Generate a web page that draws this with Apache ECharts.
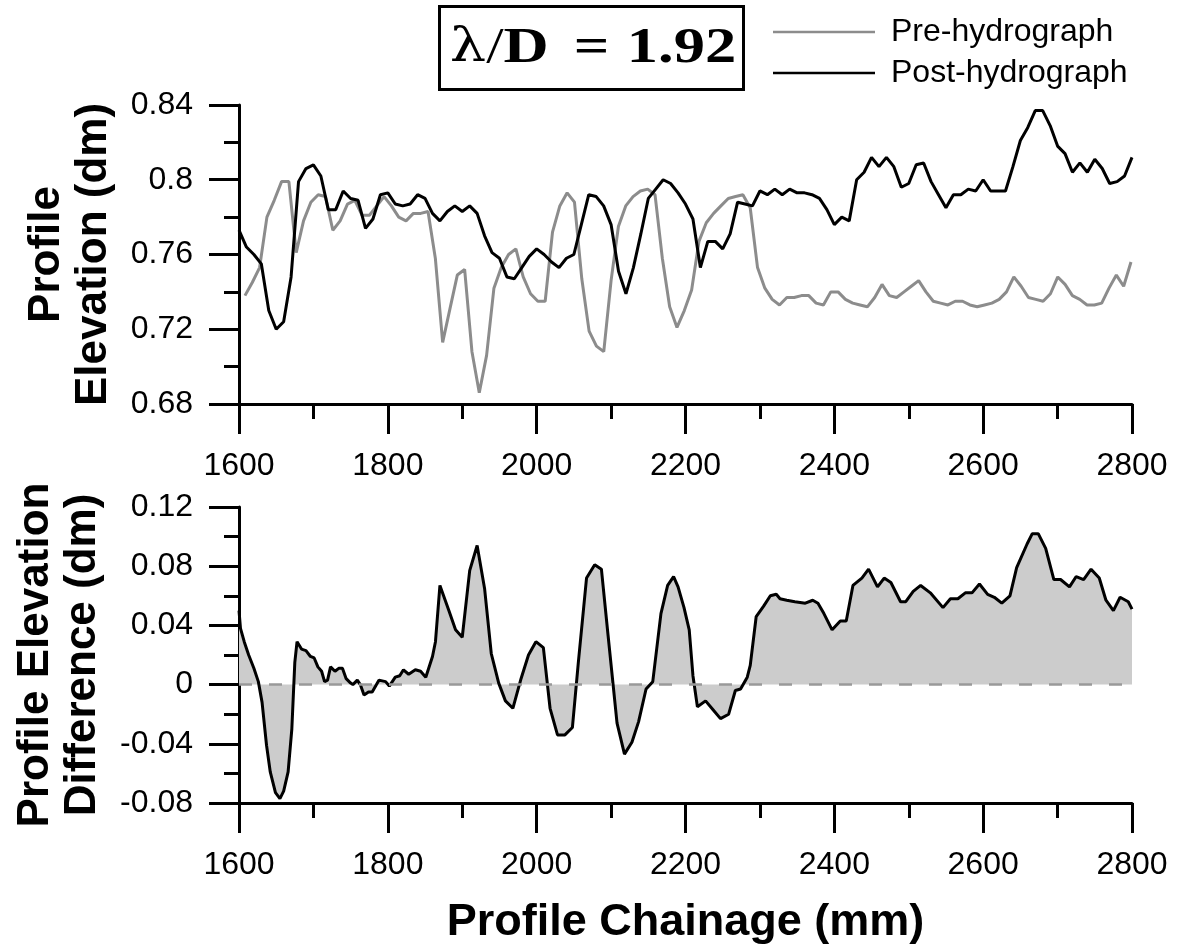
<!DOCTYPE html>
<html><head><meta charset="utf-8">
<script src="https://cdn.jsdelivr.net/npm/echarts@6.0.0/dist/echarts.min.js"></script>
<style>html,body{margin:0;padding:0;background:#fff}#c{width:1178px;height:952px}</style>
</head><body><div id="c"></div>
<script>
// ---- data ----
const xTicks = [1600, 1800, 2000, 2200, 2400, 2600, 2800];
const elevTicks = [0.68, 0.72, 0.76, 0.80, 0.84];
const diffTicks = [-0.08, -0.04, 0, 0.04, 0.08, 0.12];

const postChainage = [1600,1610,1620,1630,1640,1650,1660,1670,1680,1690,
 1700,1710,1720,1730,1740,1750,1760,1770,1780,1790,
 1800,1810,1820,1830,1840,1850,1860,1870,1880,1890,
 1900,1910,1920,1930,1940,1950,1960,1970,1980,1990,
 2000,2010,2020,2030,2040,2050,2060,2070,2080,2090,
 2100,2110,2120,2130,2140,2150,2160,2170,2180,2190,
 2200,2210,2220,2230,2240,2250,2260,2270,2280,2290,
 2300,2310,2320,2330,2340,2350,2360,2370,2380,2390,
 2400,2410,2420,2430,2440,2450,2460,2470,2480,2490,
 2500,2510,2520,2530,2540,2550,2560,2570,2580,2590,
 2600,2610,2620,2630,2640,2650,2660,2670,2680,2690,
 2700,2710,2720,2730,2740,2750,2760,2770,2780,2790,2800];
const postValues = [0.773,0.764,0.760,0.755,0.730,0.720,0.724,0.748,0.799,0.806,
 0.808,0.802,0.784,0.784,0.794,0.790,0.789,0.774,0.779,0.792,
 0.793,0.787,0.786,0.787,0.792,0.790,0.782,0.778,0.783,0.786,
 0.783,0.786,0.782,0.770,0.761,0.758,0.748,0.747,0.753,0.759,
 0.763,0.760,0.756,0.753,0.758,0.760,0.776,0.792,0.791,0.786,
 0.776,0.751,0.739,0.753,0.771,0.790,0.795,0.800,0.798,0.793,
 0.787,0.779,0.753,0.767,0.767,0.763,0.771,0.788,0.787,0.786,
 0.794,0.792,0.795,0.792,0.795,0.793,0.793,0.792,0.790,0.784,
 0.776,0.780,0.778,0.800,0.804,0.812,0.807,0.812,0.807,0.796,
 0.798,0.808,0.809,0.799,0.792,0.785,0.792,0.792,0.795,0.794,
 0.800,0.794,0.794,0.794,0.807,0.821,0.828,0.837,0.837,0.829,
 0.818,0.814,0.804,0.809,0.804,0.811,0.806,0.798,0.799,0.802,0.812];

// pre-hydrograph scan: first chainage and sample spacing (mm)
const preStart = 1608;
const preStep = 9.84;
const preValues = [0.738,0.745,0.753,0.780,0.789,0.799,0.799,0.761,0.778,0.788,
 0.792,0.791,0.773,0.778,0.787,0.789,0.781,0.781,0.786,0.791,
 0.786,0.780,0.778,0.782,0.782,0.783,0.758,0.713,0.731,
 0.749,0.752,0.708,0.686,0.706,0.742,0.753,0.760,0.763,0.748,
 0.739,0.735,0.735,0.772,0.786,0.793,0.788,0.747,0.719,0.711,
 0.708,0.746,0.775,0.786,0.791,0.794,0.795,0.792,0.758,0.732,0.721,
 0.730,0.741,0.767,0.777,0.782,0.786,0.790,0.791,0.792,0.785,
 0.753,0.742,0.736,0.733,0.737,0.737,0.738,0.738,0.734,0.733,
 0.740,0.740,0.736,0.734,0.733,0.732,0.737,0.744,0.738,0.737,
 0.740,0.743,0.746,0.740,0.735,0.734,0.733,0.735,0.735,0.733,
 0.732,0.733,0.734,0.736,0.740,0.748,0.743,0.737,0.736,0.735,
 0.739,0.748,0.744,0.738,0.736,0.733,0.733,0.734,0.742,0.749,0.743,0.756];

const diffChainage = [1600,1602,1607,1613,1620,1626,1631,1637,1642,1649,1655,1660,1666,1671,1675,1678,1684,1690,1696,1701,
 1706,1711,1715,1719,1723,1729,1734,1739,1744,1750,1753,1759,1763,1768,1774,1779,1788,1797,1802,1810,
 1816,1821,1828,1837,1844,1851,1860,1864,1870,1882,1891,1900,1910,1920,1930,1939,1949,1958,1968,1979,
 1989,1999,2009,2018,2028,2038,2048,2056,2067,2078,2087,2096,2108,2118,2128,2137,2147,2156,2167,2176,
 2184,2190,2198,2205,2210,2216,2227,2237,2247,2258,2267,2274,2283,2287,2295,2305,2314,2322,2327,2336,
 2347,2361,2371,2378,2386,2397,2408,2416,2425,2437,2446,2458,2467,2476,2489,2496,2506,2516,2529,2546,
 2556,2566,2576,2585,2595,2606,2615,2625,2636,2645,2659,2666,2674,2684,2695,2704,2716,2725,2735,2745,
 2756,2765,2775,2784,2795,2800];
const diffValues = [0.050,0.038,0.029,0.020,0.011,0.002,-0.012,-0.041,-0.059,-0.073,-0.077,-0.072,-0.059,-0.030,0.015,0.029,0.024,0.023,0.019,0.018,
 0.012,0.009,0.002,0.003,0.012,0.009,0.011,0.011,0.004,0.001,0.000,0.003,0.000,-0.007,-0.005,-0.005,0.003,0.002,-0.001,0.005,
 0.006,0.010,0.007,0.010,0.009,0.005,0.019,0.029,0.067,0.050,0.037,0.032,0.077,0.094,0.065,0.021,0.001,-0.011,-0.016,0.004,
 0.020,0.029,0.025,-0.016,-0.034,-0.034,-0.029,0.015,0.072,0.081,0.078,0.033,-0.026,-0.047,-0.039,-0.025,-0.003,0.002,0.048,0.067,
 0.073,0.066,0.052,0.037,0.006,-0.015,-0.011,-0.017,-0.023,-0.020,-0.004,-0.003,0.005,0.013,0.046,0.053,0.060,0.061,0.058,0.057,
 0.056,0.055,0.057,0.055,0.048,0.037,0.043,0.043,0.067,0.072,0.078,0.066,0.072,0.069,0.056,0.056,0.063,0.067,0.062,0.052,
 0.058,0.058,0.062,0.062,0.068,0.061,0.059,0.055,0.060,0.079,0.095,0.102,0.102,0.092,0.071,0.071,0.066,0.073,0.071,0.078,
 0.072,0.057,0.050,0.059,0.056,0.051];

// ---- chart ----
const FONT = 'Liberation Sans, Arial, sans-serif';
const fmt = v => String(+(+v).toFixed(2));
const postData = postChainage.map((x, i) => [x, postValues[i]]);
const preData = preValues.map((v, i) => [preStart + i * preStep, v]);
const diffData = diffChainage.map((x, i) => [x, diffValues[i]]);

function xAxisCfg(gridIndex, name) {
  return {
    type: 'value', gridIndex, min: xTicks[0], max: xTicks[xTicks.length - 1],
    interval: xTicks[1] - xTicks[0],
    name: name || '', nameLocation: 'middle', nameGap: 97,
    nameTextStyle: { fontFamily: FONT, fontSize: 45, fontWeight: 'bold', color: '#000' },
    axisLine: { show: true, onZero: false, lineStyle: { color: '#000', width: 3 } },
    axisTick: { show: true, inside: false, length: 30, lineStyle: { color: '#000', width: 3 } },
    minorTick: { show: true, splitNumber: 2, length: 15, lineStyle: { color: '#000', width: 3 } },
    splitLine: { show: false },
    axisLabel: { fontFamily: FONT, fontSize: 32, color: '#000', margin: 46, formatter: v => String(v) }
  };
}
function yAxisCfg(gridIndex, ticks, name, gap) {
  return {
    type: 'value', gridIndex, min: ticks[0], max: ticks[ticks.length - 1],
    interval: +(ticks[1] - ticks[0]).toFixed(2),
    name, nameLocation: 'middle', nameGap: gap, nameRotate: 90,
    nameTextStyle: { fontFamily: FONT, fontSize: 44, fontWeight: 'bold', color: '#000', lineHeight: 47 },
    axisLine: { show: true, onZero: false, lineStyle: { color: '#000', width: 3 } },
    axisTick: { show: true, inside: false, length: 30, lineStyle: { color: '#000', width: 3 } },
    minorTick: { show: true, splitNumber: 2, length: 15, lineStyle: { color: '#000', width: 3 } },
    splitLine: { show: false },
    axisLabel: { fontFamily: FONT, fontSize: 32, color: '#000', margin: 46, formatter: fmt }
  };
}

const chart = echarts.init(document.getElementById('c'), null, { renderer: 'canvas' });
chart.setOption({
  animation: false,
  backgroundColor: '#fff',
  grid: [
    { left: 239, top: 105, width: 893, height: 299 },
    { left: 239, top: 507, width: 893, height: 296 }
  ],
  xAxis: [xAxisCfg(0), xAxisCfg(1, 'Profile Chainage (mm)')],
  yAxis: [
    yAxisCfg(0, elevTicks, 'Profile\nElevation (dm)', 122),
    yAxisCfg(1, diffTicks, 'Profile Elevation\nDifference (dm)', 133)
  ],
  legend: {
    data: ['Pre-hydrograph', 'Post-hydrograph'],
    orient: 'vertical', left: 773, top: 16, padding: 0,
    icon: 'rect', itemWidth: 102, itemHeight: 2.5, itemGap: 9,
    textStyle: { fontFamily: FONT, fontSize: 32, color: '#000', padding: [0, 0, 0, 11] }
  },
  graphic: [
    { type: 'rect', shape: { x: 439.5, y: 6.5, width: 304, height: 83 },
      style: { fill: '#fff', stroke: '#000', lineWidth: 3 } },
    { type: 'text', x: 593, y: 49, scaleX: 1.25,
      style: {
        text: '{l|λ}{s|/}{d|D}{e|=}{n|1.92}',
        align: 'center', verticalAlign: 'middle',
        rich: {
          l: { fontFamily: 'DejaVu Serif', fontSize: 46, color: '#000' },
          s: { fontFamily: 'Liberation Serif', fontSize: 50, color: '#000' },
          d: { fontFamily: 'Liberation Serif', fontSize: 50, fontWeight: 'bold', color: '#000' },
          e: { fontFamily: 'Liberation Serif', fontSize: 50, fontWeight: 'bold', color: '#000', padding: [0, 14, 0, 20] },
          n: { fontFamily: 'Liberation Serif', fontSize: 50, fontWeight: 'bold', color: '#000' }
        }
      } }
  ],
  series: [
    { name: 'Pre-hydrograph', type: 'line', xAxisIndex: 0, yAxisIndex: 0, data: preData,
      showSymbol: false, symbol: 'none', color: '#8c8c8c',
      lineStyle: { color: '#8c8c8c', width: 3 }, z: 2 },
    { name: 'Post-hydrograph', type: 'line', xAxisIndex: 0, yAxisIndex: 0, data: postData,
      showSymbol: false, symbol: 'none', color: '#000',
      lineStyle: { color: '#000', width: 3 }, z: 3 },
    { name: 'Difference', type: 'line', xAxisIndex: 1, yAxisIndex: 1, data: diffData,
      showSymbol: false, symbol: 'none', color: '#000',
      lineStyle: { color: '#000', width: 3 },
      areaStyle: { color: '#cccccc', opacity: 1, origin: 0 },
      markLine: { silent: true, symbol: 'none', label: { show: false },
        lineStyle: { color: '#999', width: 2.5, type: [13, 17] },
        data: [{ yAxis: 0 }] },
      z: 3 }
  ]
});
</script></body></html>
